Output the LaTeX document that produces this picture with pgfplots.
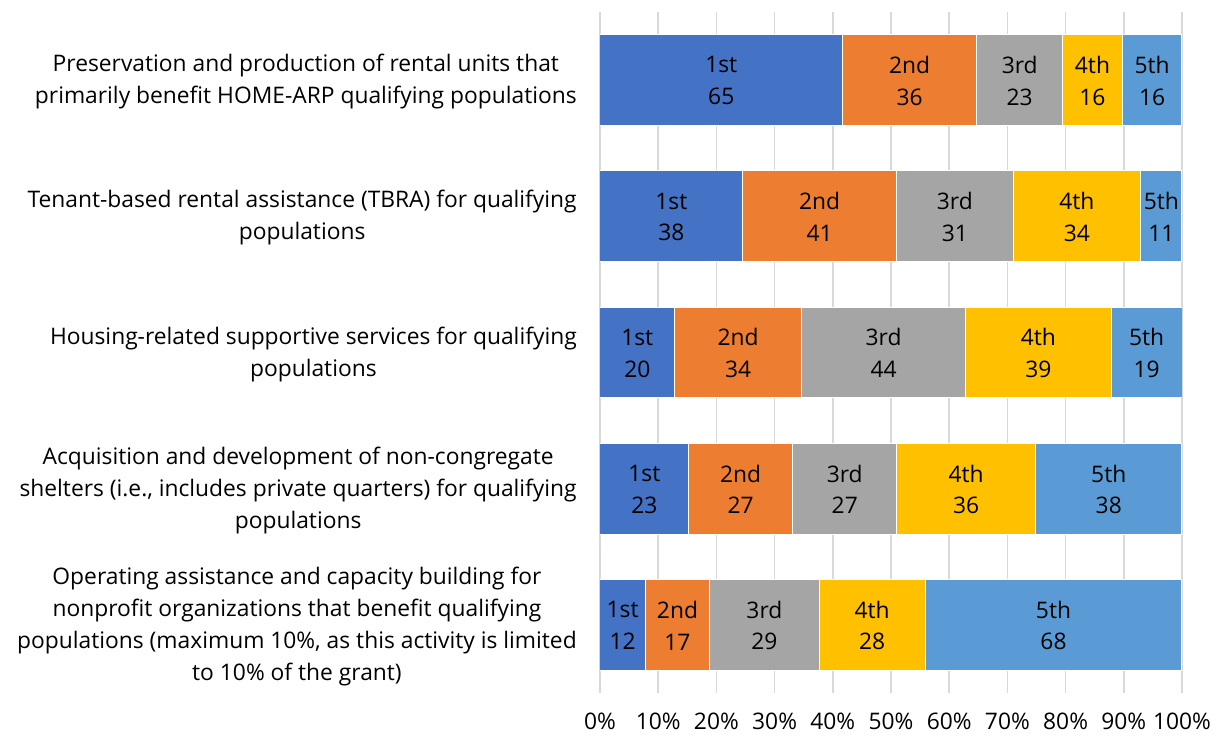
\documentclass[border=0pt]{standalone}
\usepackage{pgfplots}
\pgfplotsset{compat=1.18}
\usepackage{pgfplotstable}
\usepackage{fontspec}
\setmainfont{Open Sans}
\definecolor{c1}{HTML}{4472C4}
\definecolor{c2}{HTML}{ED7D31}
\definecolor{c3}{HTML}{A5A5A5}
\definecolor{c4}{HTML}{FFC000}
\definecolor{c5}{HTML}{5B9BD5}
\definecolor{gridc}{HTML}{D9D9D9}
\newcommand{\cfont}{\fontsize{17.1}{24.1}\selectfont}
\newcommand{\bfontx}{\fontsize{17.1}{23.8}\selectfont}
\pgfplotstableread{
cat a b c d e
0 65 36 23 16 16
1 38 41 31 34 11
2 20 34 44 39 19
3 23 27 27 36 38
4 12 17 29 28 68
}\data
\newcommand{\tot}{(\thisrow{a}+\thisrow{b}+\thisrow{c}+\thisrow{d}+\thisrow{e})}
\pgfplotsset{
  common/.style={
    at={(0,0)}, anchor=south west,
    scale only axis, width=436.5pt, height=510.75pt,
    xmin=0, xmax=100, ymin=-0.5, ymax=4.5, y dir=reverse,
  },
  lab/.style={only marks, mark=*, mark size=0pt, point meta=explicit,
    /pgf/number format/assume math mode=true,
    nodes near coords={#1\\\pgfmathprintnumber{\pgfplotspointmeta}},
    nodes near coords align={center},
    nodes near coords style={anchor=center, align=center, font=\bfontx, text=black, inner sep=0pt, yshift=-0.5pt}},
}
\begin{document}
\begin{tikzpicture}
\path[use as bounding box] (-450pt,-33.75pt) rectangle (465pt,519.75pt);
\begin{axis}[common,
  xbar stacked, bar width=0.668,
  axis line style={draw=none},
  major tick length=0pt,
  xmajorgrids, grid style={gridc, line width=1.3pt},
  xtick={0,10,...,100},
  xticklabels={0\%,10\%,20\%,30\%,40\%,50\%,60\%,70\%,80\%,90\%,100\%},
  ytick={0,1,2,3,4},
  yticklabels={
    {Preservation and production of rental units that\\primarily benefit HOME-ARP qualifying populations},
    {Tenant-based rental assistance (TBRA) for qualifying\\populations},
    {Housing-related supportive services for qualifying\\populations},
    {Acquisition and development of non-congregate\\shelters (i.e., includes private quarters) for qualifying\\populations},
    {Operating assistance and capacity building for\\nonprofit organizations that benefit qualifying\\populations (maximum 10\%, as this activity is limited\\to 10\% of the grant)}},
  ticklabel style={font=\cfont, text=black},
  yticklabel style={align=center, anchor=east, inner sep=0pt, xshift=-17.25pt, yshift=-1.2pt},
  xticklabel style={anchor=north, inner sep=0pt, yshift=-15pt},
]
\addplot[fill=c1, draw=white, line width=0.75pt] table[x expr=100*\thisrow{a}/\tot, y=cat] \data;
\addplot[fill=c2, draw=white, line width=0.75pt] table[x expr=100*\thisrow{b}/\tot, y=cat] \data;
\addplot[fill=c3, draw=white, line width=0.75pt] table[x expr=100*\thisrow{c}/\tot, y=cat] \data;
\addplot[fill=c4, draw=white, line width=0.75pt] table[x expr=100*\thisrow{d}/\tot, y=cat] \data;
\addplot[fill=c5, draw=white, line width=0.75pt] table[x expr=100*\thisrow{e}/\tot, y=cat] \data;
\end{axis}
\begin{axis}[common, hide axis, clip=false]
\addplot[lab=1st] table[x expr=100*(\thisrow{a}/2)/\tot, y=cat, meta=a] \data;
\addplot[lab=2nd] table[x expr=100*(\thisrow{a}+\thisrow{b}/2)/\tot, y=cat, meta=b] \data;
\addplot[lab=3rd] table[x expr=100*(\thisrow{a}+\thisrow{b}+\thisrow{c}/2)/\tot, y=cat, meta=c] \data;
\addplot[lab=4th] table[x expr=100*(\thisrow{a}+\thisrow{b}+\thisrow{c}+\thisrow{d}/2)/\tot, y=cat, meta=d] \data;
\addplot[lab=5th] table[x expr=100*(\thisrow{a}+\thisrow{b}+\thisrow{c}+\thisrow{d}+\thisrow{e}/2)/\tot, y=cat, meta=e] \data;
\end{axis}
\end{tikzpicture}
\end{document}
